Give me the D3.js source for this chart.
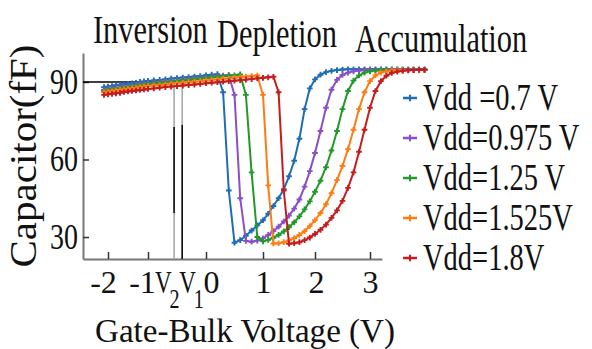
<!DOCTYPE html>
<html>
<head>
<meta charset="utf-8">
<script src="https://cdn.jsdelivr.net/npm/d3@7"></script>
<style>
  body { margin: 0; background: #fff; }
  svg { display: block; font-family: "Liberation Serif", "Times New Roman", serif; }
</style>
</head>
<body>
<svg id="chart" width="592" height="349"></svg>
<script>
// gate-bulk voltage samples (V)
var gateVoltage = [-2.1, -2.0, -1.9, -1.8, -1.7, -1.6, -1.5, -1.4, -1.3, -1.2, -1.1, -1.0, -0.9, -0.8, -0.7, -0.6, -0.5, -0.4, -0.3, -0.2, -0.1,
    0.0, 0.1, 0.2, 0.3, 0.4, 0.5, 0.6, 0.7, 0.8, 0.9, 1.0, 1.1, 1.2, 1.3, 1.4, 1.5, 1.6, 1.7, 1.8, 1.9, 2.0,
    2.1, 2.2, 2.3, 2.4, 2.5, 2.6, 2.7, 2.8, 2.9, 3.0, 3.1, 3.2, 3.3, 3.4, 3.5, 3.6, 3.7, 3.8, 3.9, 4.0];

// capacitance (fF) for each supply voltage
var capVdd070 = [88.0, 88.2, 88.4, 88.7, 88.9, 89.1, 89.3, 89.5, 89.7, 90.0, 90.2, 90.4, 90.6, 90.8, 91.0, 91.3, 91.5, 91.7, 91.9, 92.1, 92.3,
    92.6, 92.8, 93.0, 86, 48, 27.8, 28.8, 30.5, 32.5, 34.5, 36.5, 39, 42, 45, 48.5, 53.5, 59.5, 68, 79.5, 87.5, 91,
    92.8, 93.8, 94.3, 94.6, 94.8, 94.9, 94.9, 94.9, 94.9, 94.9, 94.9, 94.9, 94.9, 94.9, 94.9, 94.9, 94.9, 94.9, 94.9, 94.9];
var capVdd0975 = [87.0, 87.2, 87.5, 87.7, 87.9, 88.1, 88.4, 88.6, 88.8, 89.1, 89.3, 89.5, 89.7, 90.0, 90.2, 90.4, 90.6, 90.9, 91.1, 91.3, 91.6,
    91.8, 92.0, 92.2, 92.5, 92.7, 85, 45, 28.5, 28.2, 28.6, 29.5, 30.8, 32.3, 34, 36, 38.3, 41, 44.5, 49.5, 55.5, 62.5,
    71, 80, 87, 90.8, 92.7, 93.6, 94.1, 94.4, 94.6, 94.7, 94.7, 94.7, 94.7, 94.7, 94.7, 94.7, 94.7, 94.7, 94.7, 94.7];
var capVdd125 = [86.5, 86.7, 87.0, 87.2, 87.4, 87.7, 87.9, 88.1, 88.4, 88.6, 88.9, 89.1, 89.3, 89.6, 89.8, 90.0, 90.3, 90.5, 90.7, 91.0, 91.2,
    91.5, 91.7, 91.9, 92.2, 92.4, 92.6, 92.9, 85, 55, 30, 28.3, 28.9, 29.7, 30.8, 32.2, 33.8, 35.7, 38, 40.7, 43.8, 47.5,
    51.8, 57, 63.5, 71, 79.5, 86.5, 90.5, 92.5, 93.6, 94.1, 94.4, 94.5, 94.6, 94.6, 94.6, 94.6, 94.6, 94.6, 94.6, 94.6];
var capVdd1525 = [86.0, 86.2, 86.4, 86.7, 86.9, 87.1, 87.3, 87.5, 87.7, 88.0, 88.2, 88.4, 88.6, 88.8, 89.0, 89.3, 89.5, 89.7, 89.9, 90.1, 90.3,
    90.6, 90.8, 91.0, 91.2, 91.4, 91.6, 91.9, 92.1, 92.3, 92.5, 85, 50, 27.5, 27.6, 28, 28.7, 29.6, 30.8, 32.3, 34.2, 36.5,
    39.3, 42.7, 47, 52, 57.5, 64, 71.5, 79.5, 86, 90.3, 92.5, 93.6, 94.1, 94.4, 94.6, 94.6, 94.6, 94.6, 94.6, 94.6];
var capVdd180 = [85.0, 85.2, 85.4, 85.6, 85.8, 86.1, 86.3, 86.5, 86.7, 86.9, 87.1, 87.3, 87.5, 87.8, 88.0, 88.2, 88.4, 88.6, 88.8, 89.0, 89.2,
    89.5, 89.7, 89.9, 90.1, 90.3, 90.5, 90.7, 90.9, 91.1, 91.4, 91.6, 91.8, 92.0, 86, 48, 27.4, 27.6, 28, 28.8, 29.8, 31.2,
    32.8, 34.8, 37.4, 40.3, 44, 49, 55, 63, 71.5, 80, 86.5, 90.3, 92.4, 93.5, 94, 94.3, 94.5, 94.6, 94.7, 94.7];

var seriesLabels = ["Vdd =0.7 V", "Vdd=0.975 V", "Vdd=1.25 V", "Vdd=1.525V", "Vdd=1.8V"];
var seriesValues = [capVdd070, capVdd0975, capVdd125, capVdd1525, capVdd180];
var seriesColors = ["#1f6db4", "#8a4fc6", "#23992a", "#ff7c12", "#c81c1c"];

var xTicks = [-2, -1, 0, 1, 2, 3];
var yTicks = [30, 60, 90];
var regionLabels = ["Inversion", "Depletion", "Accumulation"];
var refLevel = 90;
// threshold markers V2, V1 on the voltage axis
var vMarkers = [{sub: "2", v: -0.55}, {sub: "1", v: -0.41}];

var svg = d3.select("#chart");

// the x axis of the source figure is not evenly spaced, so map tick by tick
var x = d3.scaleLinear()
    .domain([-2.625, -2, -1, 0, 1, 2, 3, 3.22])
    .range([83, 108, 148, 206, 263, 315, 370, 382]);
var y = d3.scaleLinear().domain([21.5, 101.2]).range([259, 53]);

function squish(sel, k){
    sel.each(function(){
        var w = this.getComputedTextLength();
        d3.select(this).attr("textLength", w*k).attr("lengthAdjust", "spacingAndGlyphs");
    });
}

// axes
var xAxis = svg.append("g")
    .attr("transform", "translate(0," + y.range()[0] + ")")
    .call(d3.axisBottom(x).tickValues(xTicks).tickSize(-7).tickSizeOuter(0).tickPadding(11)
        .tickFormat(function(d){ return String(d); }));
xAxis.select(".domain").attr("stroke", "#777").attr("stroke-width", 2);
xAxis.selectAll(".tick line").attr("stroke", "#333").attr("stroke-width", 1.5);
var tickLabelDx = [-5, -6, 5, 0, 1, 0]; // labels in the source sit a little off their ticks
xAxis.selectAll("text").attr("font-size", 32).attr("fill", "#111")
    .attr("font-family", "Liberation Serif")
    .attr("dx", function(d, i){ return tickLabelDx[i]; });

var yAxis = svg.append("g")
    .attr("transform", "translate(" + x.range()[0] + ",0)")
    .call(d3.axisLeft(y).tickValues(yTicks).tickSize(-6).tickSizeOuter(0).tickPadding(5));
yAxis.select(".domain").attr("stroke", "#777").attr("stroke-width", 2);
yAxis.selectAll(".tick line").attr("stroke", "#333").attr("stroke-width", 1.5);
yAxis.selectAll("text").attr("font-size", 35).attr("fill", "#111")
    .attr("font-family", "Liberation Serif").call(squish, 0.8);

// reference line at 90 fF and the V2 / V1 markers
svg.append("line")
    .attr("x1", x.range()[0]).attr("x2", x(vMarkers[0].v))
    .attr("y1", y(refLevel)).attr("y2", y(refLevel))
    .attr("stroke", "#000").attr("stroke-width", 1.6);

svg.append("line")
    .attr("x1", x(vMarkers[0].v)).attr("x2", x(vMarkers[0].v))
    .attr("y1", y(91.5)).attr("y2", y.range()[0])
    .attr("stroke", "#a8a8a8").attr("stroke-width", 1.6);
svg.append("line")
    .attr("x1", x(vMarkers[0].v)).attr("x2", x(vMarkers[0].v))
    .attr("y1", y(72.6)).attr("y2", y(39.3))
    .attr("stroke", "#111").attr("stroke-width", 1.6);
svg.append("line")
    .attr("x1", x(vMarkers[1].v)).attr("x2", x(vMarkers[1].v))
    .attr("y1", y(90)).attr("y2", y.range()[0])
    .attr("stroke", "#a8a8a8").attr("stroke-width", 1.6);
svg.append("line")
    .attr("x1", x(vMarkers[1].v)).attr("x2", x(vMarkers[1].v))
    .attr("y1", y(73.4)).attr("y2", y.range()[0])
    .attr("stroke", "#111").attr("stroke-width", 1.6);

var vLabelDx = [-19, -3];
vMarkers.forEach(function(m, i){
    var t = svg.append("text")
        .attr("transform", "translate(" + (x(m.v) + vLabelDx[i]) + ",293) scale(0.72,1)")
        .attr("font-size", 32).attr("fill", "#111");
    t.append("tspan").text("V");
    t.append("tspan").text(m.sub).attr("font-size", 28).attr("dy", 15).attr("dx", -3);
});

// curves
var line = d3.line()
    .x(function(d){ return x(d[0]); })
    .y(function(d){ return y(d[1]); });
var cross = d3.symbol().type(d3.symbolCross).size(18);

seriesValues.forEach(function(vals, i){
    var pts = gateVoltage.map(function(v, k){ return [v, vals[k]]; });
    svg.append("path")
        .datum(pts)
        .attr("d", line)
        .attr("fill", "none")
        .attr("stroke", seriesColors[i])
        .attr("stroke-width", 2);
    svg.append("g").selectAll("path")
        .data(pts)
        .enter().append("path")
        .attr("d", cross)
        .attr("transform", function(d){ return "translate(" + x(d[0]) + "," + y(d[1]) + ")"; })
        .attr("fill", seriesColors[i]);
});

// legend
var legend = svg.append("g").selectAll("g")
    .data(seriesLabels)
    .enter().append("g")
    .attr("transform", function(d, i){ return "translate(403," + (110 + i*40) + ")"; });
legend.append("line")
    .attr("x1", 0).attr("x2", 14).attr("y1", -12).attr("y2", -12)
    .attr("stroke", function(d, i){ return seriesColors[i]; })
    .attr("stroke-width", 2.5);
legend.append("path")
    .attr("d", d3.symbol().type(d3.symbolCross).size(22))
    .attr("transform", "translate(7,-12)")
    .attr("fill", function(d, i){ return seriesColors[i]; });
legend.append("text")
    .attr("x", 20)
    .attr("font-size", 37)
    .attr("fill", "#111")
    .text(function(d){ return d; })
    .call(squish, 0.77);

// region labels along the top
var regionX = [93, 217, 355];
var regionY = [43, 47, 52];
svg.selectAll(".region")
    .data(regionLabels)
    .enter().append("text")
    .attr("class", "region")
    .attr("x", function(d, i){ return regionX[i]; })
    .attr("y", function(d, i){ return regionY[i]; })
    .attr("font-size", 40)
    .attr("fill", "#111")
    .text(function(d){ return d; })
    .call(squish, 0.76);

// axis titles
svg.append("text")
    .attr("transform", "translate(36,156) rotate(-90)")
    .attr("text-anchor", "middle")
    .attr("font-size", 38)
    .attr("fill", "#111")
    .attr("textLength", 223).attr("lengthAdjust", "spacingAndGlyphs")
    .text("Capacitor(fF)");

svg.append("text")
    .attr("x", 95).attr("y", 342)
    .attr("font-size", 33)
    .attr("fill", "#111")
    .attr("textLength", 300).attr("lengthAdjust", "spacingAndGlyphs")
    .text("Gate-Bulk Voltage (V)");
</script>
</body>
</html>
